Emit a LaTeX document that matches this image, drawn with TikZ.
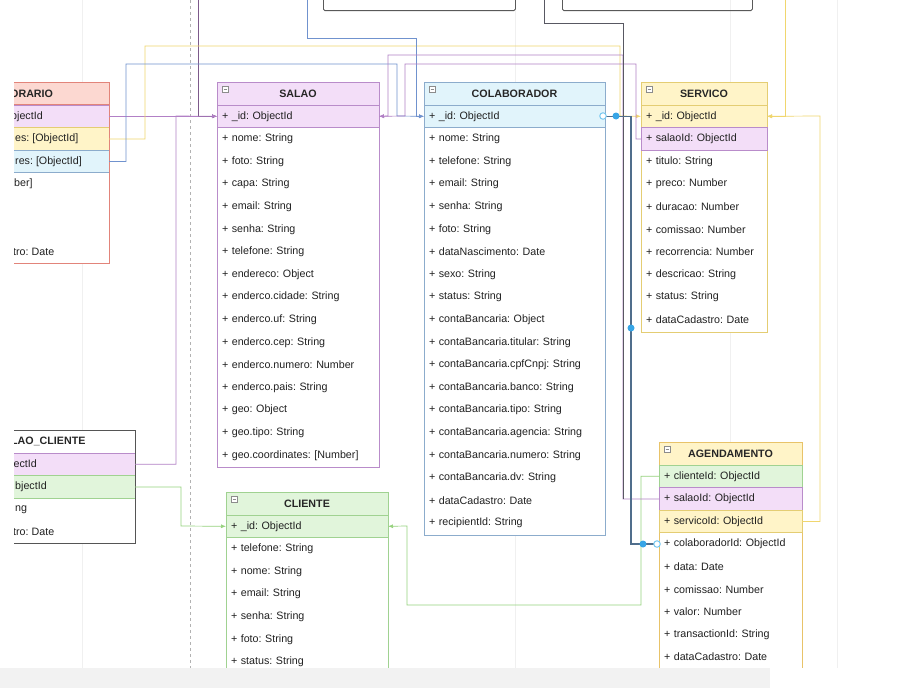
\documentclass[tikz,border=0pt]{standalone}
\usepackage{fontspec}
\setmainfont{Liberation Sans}
\usetikzlibrary{arrows.meta,positioning}
\frenchspacing

\definecolor{salaofill}{RGB}{243,222,248}
\definecolor{salaoline}{RGB}{185,140,202}
\definecolor{colabfill}{RGB}{225,244,251}
\definecolor{colabline}{RGB}{140,172,204}
\definecolor{servfill}{RGB}{255,244,200}
\definecolor{servline}{RGB}{228,205,115}
\definecolor{agline}{RGB}{232,195,105}
\definecolor{clifill}{RGB}{225,245,219}
\definecolor{cliline}{RGB}{160,210,145}
\definecolor{horfill}{RGB}{252,216,209}
\definecolor{horline}{RGB}{226,132,122}
\definecolor{scline}{RGB}{85,85,85}
\definecolor{linkpurple}{RGB}{178,128,198}
\definecolor{linkblue}{RGB}{112,146,206}
\definecolor{linkyellow}{RGB}{240,214,110}
\definecolor{linkgreen}{RGB}{150,210,125}
\definecolor{linkdark}{RGB}{88,88,98}
\definecolor{selline}{RGB}{80,110,140}
\definecolor{handleblue}{RGB}{55,165,230}
\definecolor{handlering}{RGB}{120,200,240}

\newcommand{\fieldfont}{\fontsize{10.7}{12}\selectfont}
\newcommand{\headfont}{\fontsize{10.7}{12}\selectfont\bfseries}

\begin{document}
\begin{tikzpicture}[
        x=1pt, y=-1pt,
        tbl/.style={anchor=north west, draw=#1, fill=white, line width=0.8pt, inner sep=0pt, outer sep=0pt},
        tblhead/.style={anchor=north west, minimum height=23pt, inner sep=0pt, outer sep=0pt, line width=0.8pt, font=\headfont, text=black!85},
        fld/.style={anchor=north west, minimum height=22.6pt, text width=#1, inner xsep=5pt, inner ysep=0pt, outer sep=0pt, align=left, font=\fieldfont, text=black!87, line width=0.8pt},
        fld/.default=152pt,
        rowcut/.style={anchor=north west, minimum height=22.6pt, inner sep=0pt, outer sep=0pt, line width=0.8pt},
        frag/.style={anchor=west, inner sep=0pt, font=\fieldfont, text=black!87},
        icon/.style={draw=black!45, fill=white, minimum size=6pt, inner sep=0pt, line width=0.5pt,
            path picture={\draw[black!45, line width=0.5pt] ([xshift=1.2pt]path picture bounding box.west) -- ([xshift=-1.2pt]path picture bounding box.east);}},
        guide/.style={black!6, line width=0.6pt},
        link/.style={line width=0.7pt},
        fkarrow/.style={-{Latex[length=5pt,width=4pt]}},
        sel/.style={selline, line width=1.3pt},
        handle/.style={circle, fill=handleblue, minimum size=7pt, inner sep=0pt},
        endhandle/.style={circle, draw=handlering, fill=white, line width=1pt, minimum size=6.5pt, inner sep=0pt}
    ]

        \useasboundingbox (0,0) rectangle (918,688);
        \fill[white] (0,0) rectangle (918,688);
        \clip (0,0) rectangle (918,688);

        % faint page lines
        \draw[guide] (82,0) -- (82,668);
        \draw[guide] (515,0) -- (515,668);
        \draw[guide] (730,0) -- (730,668);
        \draw[guide] (837,0) -- (837,668);
        \draw[black!30, line width=0.6pt, dash pattern=on 3pt off 3pt] (190,0) -- (190,668);

        % boxes above, cut off
        \node[draw=black!65, line width=0.8pt, rounded corners=1.5pt, anchor=south west, minimum width=192pt, minimum height=40pt] (upper_left) at (323,11) {};
        \node[draw=black!65, line width=0.8pt, rounded corners=1.5pt, anchor=south west, minimum width=190pt, minimum height=40pt] (upper_right) at (562,11) {};

        % HORARIO and SALAO_CLIENTE, cut at the left
        \begin{scope}
            \clip (14,0) rectangle (918,688);
            \node[tbl=horline, minimum width=169pt, minimum height=181pt] (horario) at (-60,82) {};
            \node[rowcut, minimum width=169pt, fill=horfill, draw=horline] (hor_head) at (horario.north west) {};
            \node[rowcut, minimum width=169pt, fill=salaofill, draw=salaoline] (hor_id) at ([yshift=-23pt]horario.north west) {};
            \node[rowcut, minimum width=169pt, fill=servfill, draw=servline] (hor_esp) at (hor_id.south west) {};
            \node[rowcut, minimum width=169pt, fill=colabfill, draw=colabline] (hor_col) at (hor_esp.south west) {};
            \draw[horline, line width=0.8pt] (horario.north west) rectangle (horario.south east);
            \node[frag, font=\headfont, text=black!85] (hor_title) at (10,93.5) {ORARIO};
            \node[frag] (hor_t1) at (11,116.3) {bjectId};
            \node[frag] (hor_t2) at (15,138.9) {es: [ObjectId]};
            \node[frag] (hor_t3) at (15,161.5) {res: [ObjectId]};
            \node[frag] (hor_t4) at (14,184.1) {ber]};
            \node[frag] (hor_t7) at (13,251.9) {tro: Date};

            \node[tbl=scline, minimum width=195pt, minimum height=113pt] (salao_cliente) at (-60,430) {};
            \node[rowcut, minimum width=195pt, fill=salaofill, draw=salaoline] (sc_salao) at ([yshift=-23pt]salao_cliente.north west) {};
            \node[rowcut, minimum width=195pt, fill=clifill, draw=cliline] (sc_cliente) at (sc_salao.south west) {};
            \draw[scline, line width=0.8pt] (salao_cliente.north west) rectangle (salao_cliente.south east);
            \node[frag, font=\headfont, text=black!85] (sc_title) at (11,441.5) {LAO\_CLIENTE};
            \node[frag] (sc_t1) at (11,464.3) {jectId};
            \node[frag] (sc_t2) at (15,486.9) {bjectId};
            \node[frag] (sc_t3) at (15,509.5) {ng};
            \node[frag] (sc_t4) at (13,532.1) {tro: Date};
        \end{scope}

        % SALAO
        \node[tbl=salaoline, minimum width=162pt, minimum height=385pt] (salao) at (217,82) {};
        \node[tblhead, minimum width=162pt, fill=salaofill, draw=salaoline] (salao_head) at (salao.north west) {SALAO};
        \node[icon] (salao_icon) at ([shift={(8.5,7.5)}]salao.north west) {};
        \node[fld, fill=salaofill, draw=salaoline] (salao_id) at (salao_head.south west) {+ \_id: ObjectId};
        \node[fld] (salao_nome) at (salao_id.south west) {+ nome: String};
        \node[fld] (salao_foto) at (salao_nome.south west) {+ foto: String};
        \node[fld] (salao_capa) at (salao_foto.south west) {+ capa: String};
        \node[fld] (salao_email) at (salao_capa.south west) {+ email: String};
        \node[fld] (salao_senha) at (salao_email.south west) {+ senha: String};
        \node[fld] (salao_tel) at (salao_senha.south west) {+ telefone: String};
        \node[fld] (salao_end) at (salao_tel.south west) {+ endereco: Object};
        \node[fld] (salao_cidade) at (salao_end.south west) {+ enderco.cidade: String};
        \node[fld] (salao_uf) at (salao_cidade.south west) {+ enderco.uf: String};
        \node[fld] (salao_cep) at (salao_uf.south west) {+ enderco.cep: String};
        \node[fld] (salao_num) at (salao_cep.south west) {+ enderco.numero: Number};
        \node[fld] (salao_pais) at (salao_num.south west) {+ enderco.pais: String};
        \node[fld] (salao_geo) at (salao_pais.south west) {+ geo: Object};
        \node[fld] (salao_geotipo) at (salao_geo.south west) {+ geo.tipo: String};
        \node[fld] (salao_coord) at (salao_geotipo.south west) {+ geo.coordinates: [Number]};

        % COLABORADOR
        \node[tbl=colabline, minimum width=181pt, minimum height=453pt] (colab) at (424,82) {};
        \node[tblhead, minimum width=181pt, fill=colabfill, draw=colabline] (col_head) at (colab.north west) {COLABORADOR};
        \node[icon] (col_icon) at ([shift={(8.5,7.5)}]colab.north west) {};
        \node[fld=171pt, fill=colabfill, draw=colabline] (col_id) at (col_head.south west) {+ \_id: ObjectId};
        \node[fld=171pt] (col_nome) at (col_id.south west) {+ nome: String};
        \node[fld=171pt] (col_tel) at (col_nome.south west) {+ telefone: String};
        \node[fld=171pt] (col_email) at (col_tel.south west) {+ email: String};
        \node[fld=171pt] (col_senha) at (col_email.south west) {+ senha: String};
        \node[fld=171pt] (col_foto) at (col_senha.south west) {+ foto: String};
        \node[fld=171pt] (col_nasc) at (col_foto.south west) {+ dataNascimento: Date};
        \node[fld=171pt] (col_sexo) at (col_nasc.south west) {+ sexo: String};
        \node[fld=171pt] (col_status) at (col_sexo.south west) {+ status: String};
        \node[fld=171pt] (col_conta) at (col_status.south west) {+ contaBancaria: Object};
        \node[fld=171pt] (col_titular) at (col_conta.south west) {+ contaBancaria.titular: String};
        \node[fld=171pt] (col_cpf) at (col_titular.south west) {+ contaBancaria.cpfCnpj: String};
        \node[fld=171pt] (col_banco) at (col_cpf.south west) {+ contaBancaria.banco: String};
        \node[fld=171pt] (col_tipo) at (col_banco.south west) {+ contaBancaria.tipo: String};
        \node[fld=171pt] (col_agencia) at (col_tipo.south west) {+ contaBancaria.agencia: String};
        \node[fld=171pt] (col_numero) at (col_agencia.south west) {+ contaBancaria.numero: String};
        \node[fld=171pt] (col_dv) at (col_numero.south west) {+ contaBancaria.dv: String};
        \node[fld=171pt] (col_cadastro) at (col_dv.south west) {+ dataCadastro: Date};
        \node[fld=171pt] (col_recip) at (col_cadastro.south west) {+ recipientId: String};

        % SERVICO
        \node[tbl=servline, minimum width=126pt, minimum height=250pt] (servico) at (641,82) {};
        \node[tblhead, minimum width=126pt, fill=servfill, draw=servline] (serv_head) at (servico.north west) {SERVICO};
        \node[icon] (serv_icon) at ([shift={(8.5,7.5)}]servico.north west) {};
        \node[fld=116pt, fill=servfill, draw=servline] (serv_id) at (serv_head.south west) {+ \_id: ObjectId};
        \node[fld=116pt, fill=salaofill, draw=salaoline] (serv_salao) at (serv_id.south west) {+ salaoId: ObjectId};
        \node[fld=116pt] (serv_titulo) at (serv_salao.south west) {+ titulo: String};
        \node[fld=116pt] (serv_preco) at (serv_titulo.south west) {+ preco: Number};
        \node[fld=116pt] (serv_duracao) at (serv_preco.south west) {+ duracao: Number};
        \node[fld=116pt] (serv_comissao) at (serv_duracao.south west) {+ comissao: Number};
        \node[fld=116pt] (serv_recor) at (serv_comissao.south west) {+ recorrencia: Number};
        \node[fld=116pt] (serv_desc) at (serv_recor.south west) {+ descricao: String};
        \node[fld=116pt] (serv_status) at (serv_desc.south west) {+ status: String};
        \node[fld=116pt] (serv_cadastro) at (serv_status.south west) {+ dataCadastro: Date};

        % AGENDAMENTO
        \node[tbl=agline, minimum width=143pt, minimum height=227pt] (agenda) at (659,442) {};
        \node[tblhead, minimum width=143pt, fill=servfill, draw=agline] (ag_head) at (agenda.north west) {AGENDAMENTO};
        \node[icon] (ag_icon) at ([shift={(8.5,7.5)}]agenda.north west) {};
        \node[fld=133pt, fill=clifill, draw=cliline] (ag_cliente) at (ag_head.south west) {+ clienteId: ObjectId};
        \node[fld=133pt, fill=salaofill, draw=salaoline] (ag_salao) at (ag_cliente.south west) {+ salaoId: ObjectId};
        \node[fld=133pt, fill=servfill, draw=servline] (ag_servico) at (ag_salao.south west) {+ servicoId: ObjectId};
        \node[fld=133pt] (ag_colab) at (ag_servico.south west) {+ colaboradorId: ObjectId};
        \node[fld=133pt] (ag_data) at (ag_colab.south west) {+ data: Date};
        \node[fld=133pt] (ag_comissao) at (ag_data.south west) {+ comissao: Number};
        \node[fld=133pt] (ag_valor) at (ag_comissao.south west) {+ valor: Number};
        \node[fld=133pt] (ag_trans) at (ag_valor.south west) {+ transactionId: String};
        \node[fld=133pt] (ag_cadastro) at (ag_trans.south west) {+ dataCadastro: Date};

        % CLIENTE
        \node[tbl=cliline, minimum width=162pt, minimum height=177pt] (cliente) at (226,492) {};
        \node[tblhead, minimum width=162pt, fill=clifill, draw=cliline] (cli_head) at (cliente.north west) {CLIENTE};
        \node[icon] (cli_icon) at ([shift={(8.5,7.5)}]cliente.north west) {};
        \node[fld, fill=clifill, draw=cliline] (cli_id) at (cli_head.south west) {+ \_id: ObjectId};
        \node[fld] (cli_tel) at (cli_id.south west) {+ telefone: String};
        \node[fld] (cli_nome) at (cli_tel.south west) {+ nome: String};
        \node[fld] (cli_email) at (cli_nome.south west) {+ email: String};
        \node[fld] (cli_senha) at (cli_email.south west) {+ senha: String};
        \node[fld] (cli_foto) at (cli_senha.south west) {+ foto: String};
        \node[fld] (cli_status) at (cli_foto.south west) {+ status: String};

        % connectors
        \coordinate (salao_top) at (198,-5);
        \coordinate (colab_top) at (307,-5);
        \coordinate (agenda_top) at (544,-5);
        \coordinate (agenda_bend) at (623,23);
        \coordinate (servico_top) at (785,-5);

        \draw[link, fkarrow, linkpurple] (hor_id.east) -- (salao_id.west);
        \draw[link, fkarrow, linkpurple!70!black] (salao_top) |- (salao_id.west);
        \draw[link, fkarrow, linkpurple] (sc_salao.east) -| (176,116) -- (salao_id.west);
        \draw[link, fkarrow, linkgreen] (sc_cliente.east) -| (181,526) -- (cli_id.west);
        \draw[link, fkarrow, linkgreen] (ag_cliente.west) -| (641,605) -| (407,526) -- (cli_id.east);
        \draw[link, fkarrow, linkyellow] (hor_esp.east) -| (145,46) -| (620,116) -- (serv_id.west);
        \draw[link, fkarrow, linkblue] (hor_col.east) -| (126,64) -| (397,116) -- (col_id.west);
        \draw[link, fkarrow, linkblue] (colab_top) |- (416,38) |- (col_id.west);
        \draw[link, fkarrow, linkpurple] (serv_salao.west) -| (636,64) -| (405,116) -- (salao_id.east);
        \draw[link, fkarrow, linkpurple] (ag_salao.west) -| (623,55) -| (388,116) -- (salao_id.east);
        \draw[link, linkdark] (agenda_top) |- (agenda_bend) -- (agenda_bend |- ag_salao.west);
        \draw[link, fkarrow, linkyellow] (ag_servico.east) -| (820,116) -- (serv_id.east);
        \draw[link, fkarrow, linkyellow] (servico_top) |- (serv_id.east);
        \draw[sel] (col_id.east) -| (631,300) |- (ag_colab.west);

        % handles of the selected edge
        \node[endhandle] (h_start) at (603,116) {};
        \node[handle] (h_first) at (616,116) {};
        \node[handle] (h_mid) at (631,328) {};
        \node[handle] (h_last) at (643,544) {};
        \node[endhandle] (h_end) at (657,544) {};

        % screen strip at the bottom
        \fill[white] (0,668) rectangle (918,688);
        \fill[black!5] (0,668) rectangle (770,688);
    \end{tikzpicture}
\end{document}
